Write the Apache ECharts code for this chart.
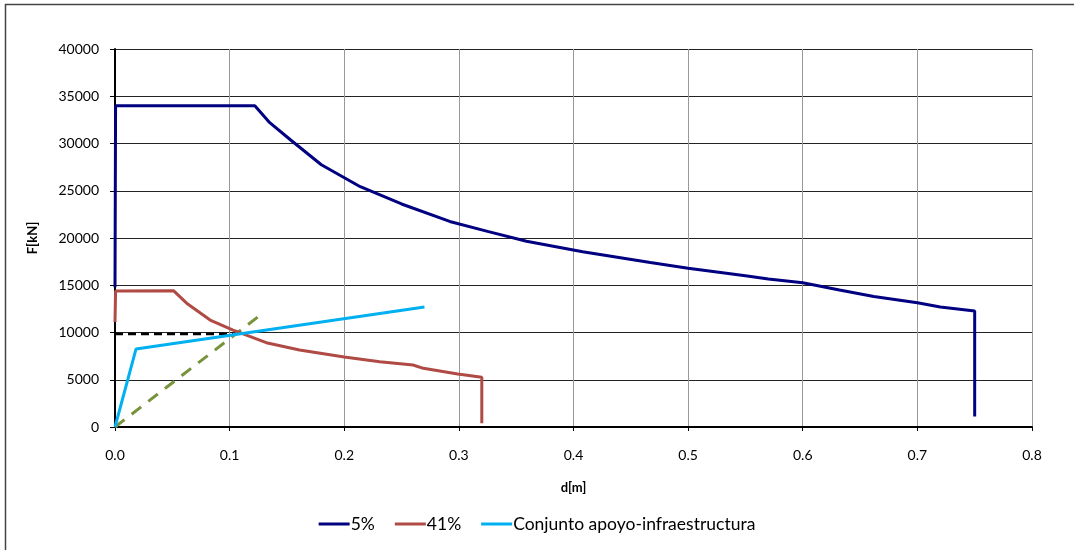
<!DOCTYPE html>
<html>
<head>
<meta charset="utf-8">
<script src="https://cdn.jsdelivr.net/npm/echarts@6/dist/echarts.min.js"></script>
<style>
  html, body { margin: 0; padding: 0; background: #fff; }
  #chart { width: 1074px; height: 550px; }
</style>
</head>
<body>
<div id="chart"></div>
<script>
  // series: [d (m), F (kN)]
  const serie5 = [
    [0, 14800], [0.0005, 34000], [0.122, 34000], [0.135, 32200], [0.153, 30400],
    [0.18, 27750], [0.214, 25430], [0.25, 23600], [0.292, 21750], [0.325, 20700],
    [0.359, 19650], [0.408, 18550], [0.467, 17400], [0.5, 16800], [0.55, 16000],
    [0.57, 15650], [0.6, 15270], [0.632, 14500], [0.662, 13800], [0.7, 13150],
    [0.72, 12700], [0.75, 12280], [0.75, 1100]
  ];
  const serie41 = [
    [0, 11100], [0.0005, 14400], [0.051, 14430], [0.0625, 13100], [0.083, 11320],
    [0.103, 10260], [0.132, 8920], [0.161, 8150], [0.2, 7400], [0.231, 6900],
    [0.26, 6560], [0.269, 6210], [0.299, 5610], [0.32, 5260], [0.32, 400]
  ];
  const conjunto = [[0, 0], [0.0183, 8250], [0.27, 12700]];
  const rigidez = [[0, 0], [0.129, 12050]];
  const limite = [[0, 9850], [0.103, 9850]];

  const names = ['5%', '41%', 'Conjunto apoyo-infraestructura'];
  const colors = ['#000080', '#B04A45', '#00B0F0'];

  const font = 'Lato, "Open Sans", sans-serif';
  const chart = echarts.init(document.getElementById('chart'));

  chart.setOption({
    animation: false,
    textStyle: { fontFamily: font },
    graphic: [{
      type: 'rect',
      shape: { x: 5.5, y: 4.5, width: 1200, height: 700 },
      style: { fill: 'none', stroke: '#444', lineWidth: 1.5 },
      silent: true
    }],
    grid: { left: 115, right: 42, top: 49, bottom: 123 },
    legend: {
      bottom: 12,
      left: 'center',
      data: names,
      icon: 'rect',
      itemWidth: 31,
      itemHeight: 3,
      itemGap: 20,
      textStyle: { fontFamily: font, fontSize: 17.5, color: '#000', padding: [0, 0, 0, -4] }
    },
    xAxis: {
      type: 'value',
      min: 0, max: 0.8, interval: 0.1,
      name: 'd[m]',
      nameLocation: 'middle',
      nameGap: 54,
      nameTextStyle: { fontFamily: font, fontWeight: 'bold', fontSize: 13, color: '#000' },
      axisLine: { show: true, onZero: false, lineStyle: { color: '#000', width: 2 } },
      axisTick: { show: true, length: 4, lineStyle: { color: '#000' } },
      axisLabel: { formatter: v => v.toFixed(1), fontSize: 14, color: '#000', margin: 21 },
      splitLine: { show: true, lineStyle: { color: '#999', width: 1 } }
    },
    yAxis: {
      type: 'value',
      min: 0, max: 40000, interval: 5000,
      name: 'F[kN]',
      nameLocation: 'middle',
      nameGap: 76,
      nameTextStyle: { fontFamily: font, fontWeight: 'bold', fontSize: 13, color: '#000' },
      axisLine: { show: true, lineStyle: { color: '#000', width: 2 } },
      axisTick: { show: true, length: 5, lineStyle: { color: '#000' } },
      axisLabel: { formatter: v => String(v), fontSize: 14, color: '#000', margin: 16 },
      splitLine: { show: true, lineStyle: { color: '#222', width: 1 } }
    },
    series: [
      {
        name: names[0], type: 'line', data: serie5, symbol: 'none', z: 5,
        lineStyle: { color: colors[0], width: 3 }, itemStyle: { color: colors[0] }
      },
      {
        name: names[1], type: 'line', data: serie41, symbol: 'none', z: 4,
        lineStyle: { color: colors[1], width: 3 }, itemStyle: { color: colors[1] }
      },
      {
        name: names[2], type: 'line', data: conjunto, symbol: 'none', z: 6,
        lineStyle: { color: colors[2], width: 3 }, itemStyle: { color: colors[2] }
      },
      {
        name: 'rigidez', type: 'line', data: rigidez, symbol: 'none', z: 3,
        lineStyle: { color: '#77933C', width: 3, type: [12, 9] }
      },
      {
        name: 'limite', type: 'line', data: limite, symbol: 'none', z: 3,
        lineStyle: { color: '#000', width: 2.5, type: [8, 5] }
      }
    ]
  });
</script>
</body>
</html>
